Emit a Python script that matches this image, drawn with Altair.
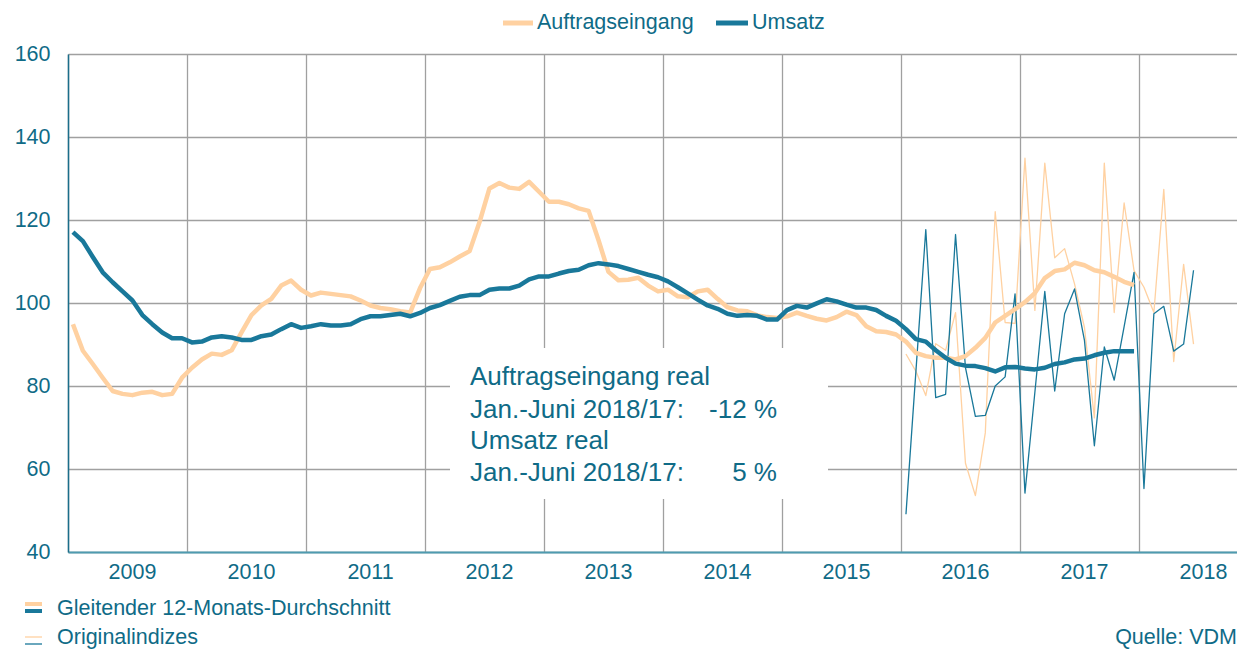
import altair as alt
import pandas as pd

# ---------------- data ----------------
# 12-month moving averages, monthly, Jan 2009 - Dec 2017
ma_start = (2009, 1)
auftrag_ma = [
    94.9, 88.5, 85.3, 82.0, 78.8, 78.1, 77.8, 78.4, 78.6, 77.8, 78.1, 82.0,
    84.4, 86.4, 87.8, 87.5, 88.6, 92.9, 97.1, 99.4, 101.0, 104.2, 105.4, 103.2,
    101.8, 102.5, 102.2, 101.9, 101.6, 100.6, 99.4, 98.8, 98.5, 98.0, 97.7, 103.6,
    108.2, 108.6, 109.8, 111.2, 112.5, 119.5, 127.6, 128.9, 127.8, 127.5, 129.2, 126.8,
    124.4, 124.4, 123.8, 122.8, 122.2, 115.1, 107.5, 105.5, 105.6, 106.1, 104.2, 102.8,
    103.2, 101.6, 101.4, 102.8, 103.2, 101.0, 99.0, 98.2, 98.0, 97.0, 96.6, 96.4,
    96.8, 97.7, 96.9, 96.2, 95.8, 96.6, 97.9, 97.1, 94.4, 93.2, 93.0, 92.4,
    90.7, 88.0, 87.2, 86.8, 86.8, 86.4, 87.2, 89.2, 91.6, 95.3, 96.9, 98.5,
    100.2, 102.4, 106.0, 107.7, 108.1, 109.7, 109.1, 107.9, 107.4, 106.3, 105.1, 104.3,
]
umsatz_ma = [
    117.1, 114.9, 111.1, 107.4, 105.0, 102.8, 100.6, 97.1, 94.9, 92.9, 91.5, 91.5,
    90.5, 90.7, 91.7, 92.0, 91.7, 91.1, 91.1, 92.0, 92.4, 93.7, 94.9, 94.0,
    94.4, 94.9, 94.6, 94.6, 94.9, 96.1, 96.8, 96.8, 97.1, 97.4, 96.8, 97.6,
    98.8, 99.5, 100.5, 101.5, 101.9, 101.9, 103.2, 103.5, 103.5, 104.2, 105.7, 106.4,
    106.4, 107.1, 107.7, 108.0, 109.1, 109.6, 109.3, 108.9, 108.2, 107.5, 106.8, 106.2,
    105.2, 103.8, 102.3, 100.8, 99.4, 98.6, 97.4, 96.9, 97.1, 96.9, 96.0, 96.0,
    98.3, 99.3, 98.9, 99.9, 100.9, 100.4, 99.6, 98.9, 98.9, 98.3, 96.9, 95.7,
    93.7, 91.3, 90.7, 88.6, 86.8, 85.4, 84.9, 84.8, 84.3, 83.5, 84.5, 84.6,
    84.2, 84.0, 84.4, 85.3, 85.7, 86.4, 86.6, 87.4, 88.0, 88.4, 88.4, 88.4,
]

# original indices, monthly, Jan 2016 - Jun 2018
orig_start = (2016, 1)
auftrag_orig = [
    87.7, 83.6, 77.7, 90.2, 88.6, 97.7, 61.4, 53.6, 68.7, 122.0, 95.3, 95.1,
    134.9, 98.2, 133.7, 110.9, 113.1, 104.6, 94.1, 72.3, 133.7, 97.7, 124.1, 107.8,
    103.8, 97.7, 127.4, 85.9, 109.3, 90.1,
]
umsatz_orig = [
    49.1, 83.4, 117.7, 77.2, 78.0, 116.5, 84.4, 72.7, 72.9, 80.0, 82.2, 102.2,
    54.2, 78.5, 102.8, 78.8, 97.4, 103.4, 91.0, 65.6, 89.4, 81.4, 94.3, 107.4,
    55.3, 97.4, 99.2, 88.4, 90.1, 107.9,
]

year_ticks = list(range(2009, 2019))
y_ticks = [40, 60, 80, 100, 120, 140, 160]
series_names = ["Auftragseingang", "Umsatz"]
legend_bottom = ["Gleitender 12-Monats-Durchschnitt", "Originalindizes"]
note_titles = ["Auftragseingang real", "Umsatz real"]
note_period = "Jan.-Juni 2018/17:"
note_values = ["-12 %", "5 %"]
source_text = "Quelle: VDM"

# ---------------- styling ----------------
ORANGE = "#FFD1A1"
TEAL = "#19789A"
TEXT = "#0F6B87"
GRID = "#A0A0A0"
FONT = "Liberation Sans"
FS = 21.5
W, H = 1169, 498


def month_positions(start, n):
    y0, m0 = start
    return [y0 + ((m0 - 1) + i + 0.5) / 12 for i in range(n)]


ma = pd.DataFrame({
    "t": month_positions(ma_start, len(auftrag_ma)),
    "auftrag": auftrag_ma,
    "umsatz": umsatz_ma,
})
orig = pd.DataFrame({
    "t": month_positions(orig_start, len(auftrag_orig)),
    "auftrag": auftrag_orig,
    "umsatz": umsatz_orig,
})

x_enc = alt.X(
    "t:Q",
    scale=alt.Scale(domain=[2009, 2009 + W / 119.0], nice=False, zero=False),
    axis=alt.Axis(
        values=year_ticks, format="d", title=None, ticks=False, grid=True,
        labelOffset=64, labelFlush=False, labelOverlap=False, labelPadding=9,
        domainColor="#4E9BB0", domainWidth=2,
    ),
)


def y_enc(field):
    return alt.Y(
        f"{field}:Q",
        scale=alt.Scale(domain=[40, 160], nice=False, zero=False),
        axis=alt.Axis(
            values=y_ticks, title=None, ticks=False, grid=True, labelPadding=18,
            domainColor="#1B6E8A", domainWidth=1.5,
        ),
    )


def series_line(df, field, color, width):
    return alt.Chart(df).mark_line(
        color=color, strokeWidth=width, strokeJoin="round"
    ).encode(x=x_enc, y=y_enc(field))


one = pd.DataFrame({"k": [0]})


def label(text, x, y, size=FS, align="left"):
    return alt.Chart(one).mark_text(
        text=text, align=align, baseline="middle", fontSize=size,
        color=TEXT, font=FONT,
    ).encode(x=alt.value(x), y=alt.value(y))


def swatch(x1, x2, y, color, width):
    return alt.Chart(one).mark_rule(color=color, strokeWidth=width).encode(
        x=alt.value(x1), x2=alt.value(x2), y=alt.value(y)
    )


layers = [
    series_line(orig, "auftrag", ORANGE, 1.3),
    series_line(orig, "umsatz", TEAL, 1.3),
    series_line(ma, "auftrag", ORANGE, 4.5),
    series_line(ma, "umsatz", TEAL, 4.5),
    # annotation box
    alt.Chart(one).mark_rect(color="white").encode(
        x=alt.value(382), x2=alt.value(760), y=alt.value(294), y2=alt.value(445)
    ),
    label(note_titles[0], 402, 323, 26),
    label(note_period, 402, 356, 26),
    label(note_values[0], 709, 356, 26, "right"),
    label(note_titles[1], 402, 387, 26),
    label(note_period, 402, 419, 26),
    label(note_values[1], 709, 419, 26, "right"),
    # top legend
    swatch(435, 465, -31, ORANGE, 5),
    label(series_names[0], 469, -31),
    swatch(648, 680, -31, TEAL, 5),
    label(series_names[1], 684, -31),
    # bottom legend
    swatch(-43, -26, 550, ORANGE, 4),
    swatch(-43, -26, 557, TEAL, 4),
    label(legend_bottom[0], -11, 555),
    swatch(-43, -26, 583, ORANGE, 1.3),
    swatch(-43, -26, 590, TEAL, 1.3),
    label(legend_bottom[1], -11, 584),
    label(source_text, W, 584, FS, "right"),
]

chart = alt.layer(*layers).properties(
    width=W, height=H,
    padding={"left": 60, "top": 46, "right": 0, "bottom": 98},
    autosize=alt.AutoSizeParams(type="none"),
).configure_view(stroke=None).configure_axis(
    labelFont=FONT, labelFontSize=FS, labelColor=TEXT,
    gridColor=GRID, gridWidth=1.3,
)

chart.save("out.html", embed_options={"renderer": "svg", "actions": False})
